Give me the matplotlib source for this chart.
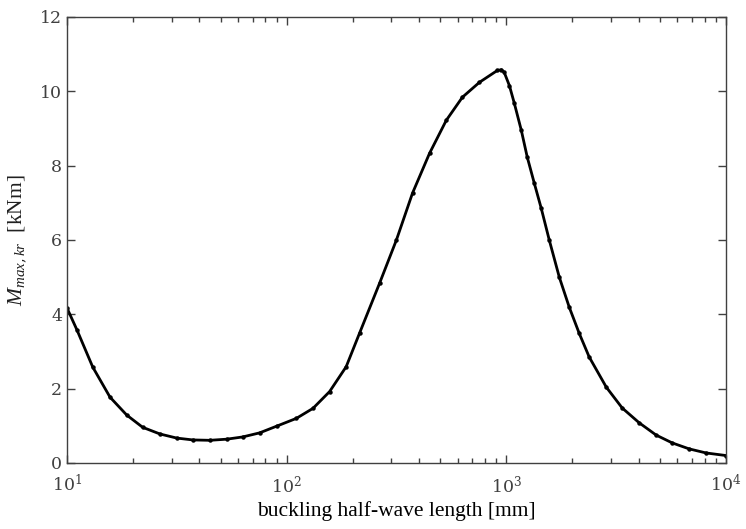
import numpy as np
import matplotlib
matplotlib.use("Agg")
from matplotlib import pyplot as plt
from matplotlib.ticker import LogLocator, FixedLocator

# tick labels in a wide serif, axis titles in Times-like serif
plt.rcParams["font.family"] = ["DejaVu Serif"]
plt.rcParams["mathtext.fontset"] = "custom"
plt.rcParams["mathtext.rm"] = "DejaVu Serif"
plt.rcParams["mathtext.it"] = "Liberation Serif:italic"

# half-wave length [mm] and critical moment [kNm]
half_wave = [10, 11.1, 13.1, 15.7, 18.7, 22.1, 26.5, 31.6, 37.4, 44.7, 53.3, 63,
             75.3, 90, 110.7, 131.8, 156.8, 186.6, 214.6, 265, 316, 374, 447,
             533, 631, 754, 910, 950, 978, 1033, 1087, 1170, 1245, 1340, 1442,
             1568, 1742, 1934, 2146, 2384, 2851, 3368, 4027, 4810, 5690, 6790,
             8110, 10000]
m_cr = [4.17, 3.58, 2.58, 1.77, 1.29, 0.96, 0.78, 0.67, 0.62, 0.61, 0.64, 0.70,
        0.81, 0.99, 1.20, 1.47, 1.92, 2.59, 3.49, 4.84, 6.0, 7.26, 8.33, 9.22,
        9.84, 10.24, 10.56, 10.58, 10.51, 10.15, 9.68, 8.95, 8.23, 7.53, 6.85,
        6.0, 5.0, 4.19, 3.49, 2.85, 2.04, 1.48, 1.08, 0.75, 0.54, 0.38, 0.27, 0.2]

x_ticks = [10, 100, 1000, 10000]
y_ticks = [0, 2, 4, 6, 8, 10, 12]

fig = plt.figure(figsize=(7.46, 5.29), dpi=100)
ax = fig.add_axes([0.0898, 0.1248, 0.8834, 0.8432])

ax.plot(half_wave, m_cr, color="black", lw=2.0, marker="o", ms=2.2)

ax.set_xscale("log")
ax.set_xlim(10, 10000)
ax.set_ylim(0, 12)
ax.xaxis.set_major_locator(FixedLocator(x_ticks))
ax.xaxis.set_minor_locator(LogLocator(base=10, subs=np.arange(2, 10)))
ax.set_yticks(y_ticks)

grey = "#404040"
for sp in ax.spines.values():
    sp.set_color(grey)
    sp.set_linewidth(1.0)
ax.tick_params(which="both", direction="in", top=True, right=True,
               colors=grey, labelsize=12.5, width=1.0)
ax.tick_params(which="major", length=6)
ax.tick_params(which="minor", length=3.5)
ax.tick_params(axis="x", pad=8)

ax.set_xlabel("buckling half-wave length [mm]", fontsize=15.5,
              fontfamily="Liberation Serif", color="black")
ax.set_ylabel(r"$M_{max,kr}$  [kNm]", fontsize=15.5,
              fontfamily="Liberation Serif", color="#202020", labelpad=8)

fig.savefig("out.png", dpi=100)
